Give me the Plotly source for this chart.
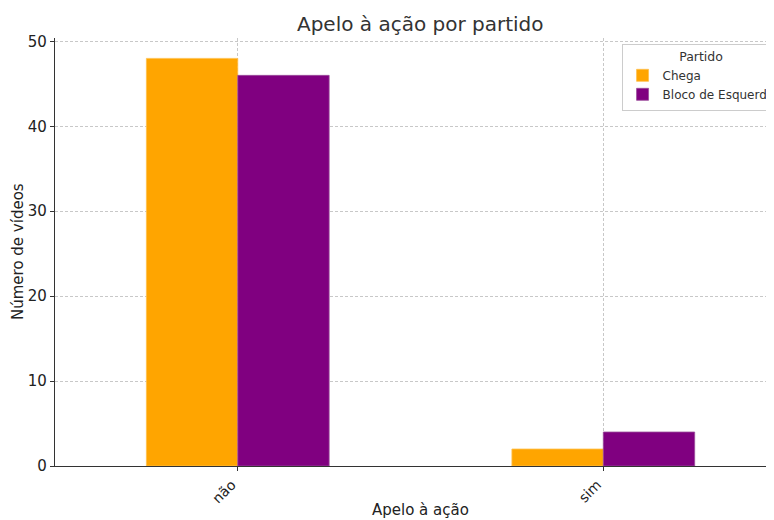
import plotly.graph_objects as go

categories = ["não", "sim"]
chega = [48, 2]
bloco = [46, 4]
series_names = ["Chega", "Bloco de Esquerda"]
y_ticks = [0, 10, 20, 30, 40, 50]

FONT = "DejaVu Sans"

# page body has an 8px margin, so figure-space coordinates are shifted by -8
W, H = 766, 512
L, T, PW, PH = 47, 30, 719, 428

fig = go.Figure()
fig.add_trace(go.Bar(x=categories, y=chega, name=series_names[0],
                     marker=dict(color="#FFA500", line=dict(color="#FFC04D", width=0.8))))
fig.add_trace(go.Bar(x=categories, y=bloco, name=series_names[1],
                     marker=dict(color="#800080", line=dict(color="#9A4D9A", width=0.8))))

fig.update_layout(
    width=W, height=H,
    margin=dict(l=L, r=W - L - PW, t=T, b=H - T - PH, autoexpand=False),
    paper_bgcolor="white", plot_bgcolor="white",
    barmode="group", bargap=0.5, bargroupgap=0,
    font=dict(family=FONT, color="#333333"),
    title=dict(text="Apelo à ação por partido", x=0.508, xref="paper", xanchor="center",
               y=1 - 16 / H, yref="container", yanchor="middle",
               font=dict(size=20, color="#333333")),
    showlegend=True,
    legend=dict(x=0.788, y=0.987, xanchor="left", yanchor="top",
                bgcolor="rgba(255,255,255,0.85)", bordercolor="#CCCCCC", borderwidth=1,
                font=dict(size=12, color="#333333"),
                title=dict(text="Partido", side="top center", font=dict(size=12.5, color="#333333")),
                itemwidth=30, tracegroupgap=0),
)

fig.update_xaxes(
    type="category", range=[-0.5, 1.467], automargin=False,
    showgrid=True, gridcolor="#C8C8C8", griddash="3px,2px", gridwidth=0.8,
    showline=True, linecolor="#333333", linewidth=1.2,
    ticks="outside", ticklen=4, tickcolor="#333333",
    tickangle=-45, tickfont=dict(size=14, color="#222222"),
    ticklabelshift=-6,
    zeroline=False,
)
fig.update_yaxes(
    range=[0, 50.4], tickvals=y_ticks, automargin=False,
    showgrid=True, gridcolor="#C8C8C8", griddash="3px,2px", gridwidth=0.8,
    showline=True, linecolor="#333333", linewidth=1.2,
    ticks="outside", ticklen=4, tickcolor="#333333",
    tickfont=dict(size=15, color="#222222"),
    zeroline=False,
)

fig.add_annotation(text="Número de vídeos", xref="paper", yref="paper",
                   x=(10 - L) / PW, y=0.5, textangle=-90,
                   xanchor="center", yanchor="middle", showarrow=False,
                   font=dict(size=15, color="#222222", family=FONT))
fig.add_annotation(text="Apelo à ação", xref="paper", yref="paper", x=0.508, y=(458 - 502) / PH,
                   xanchor="center", yanchor="middle", showarrow=False,
                   font=dict(size=15, color="#222222", family=FONT))

fig.write_html("out.html")
